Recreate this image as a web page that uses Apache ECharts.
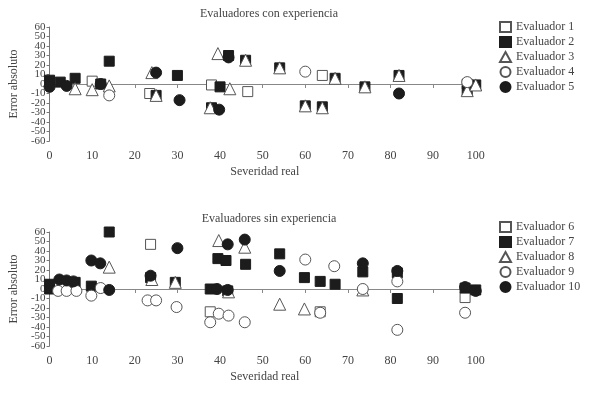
<!DOCTYPE html>
<html>
<head>
<meta charset="utf-8">
<script src="https://cdn.jsdelivr.net/npm/echarts@6/dist/echarts.min.js"></script>
<style>
  html, body { margin: 0; padding: 0; background: #fff; }
  #chart { width: 589px; height: 393px; }
</style>
</head>
<body>
<div id="chart"></div>
<script>
// severity (x) vs absolute error (y)
var xTicks = [0, 10, 20, 30, 40, 50, 60, 70, 80, 90, 100];

// evaluadores con experiencia
var ev1 = [[0, 2], [10, 3], [23.5, -10], [38, -1], [46.5, -8], [64, 9], [98, 0]];
var ev2 = [[0, 4], [2.5, 2], [6, 6], [12, 0], [14, 24], [25, -12], [30, 9], [42, 30], [46, 25], [40, -3],
  [38, -25], [54, 17], [60, -23], [64, -24], [67, 6], [74, -3], [82, 9], [98, -7], [100, -1]];
var ev3 = [[6, -5], [10, -6], [14, -2], [24, 12], [25, -12], [39.5, 32], [42.3, -5], [46, 25], [37.7, -25],
  [54, 17], [60, -23], [64, -25], [67, 6], [74, -3], [82, 9], [98, -7], [100, -1]];
var ev4 = [[14, -12], [60, 13], [98, 2]];
var ev5 = [[0, -3], [4, -2], [12, 0], [25, 12], [30.5, -17], [39.8, -27], [42, 28], [82, -10]];

// evaluadores sin experiencia
var ev6 = [[23.7, 47], [37.7, -24], [63.5, -24], [97.5, -9]];
var ev7 = [[0, 5], [0, 0], [6, 7], [9.8, 3], [14, 60], [23.7, 12], [29.5, 7], [39.5, 32], [41.4, 30], [46, 26],
  [54, 37], [59.8, 12], [63.5, 8], [67, 5], [73.5, 18], [81.6, 17], [81.6, -10], [37.7, 0], [41.8, -2],
  [97.5, 1], [100, -1]];
var ev8 = [[14, 23], [24, 10], [29.5, 7], [39.7, 51], [45.8, 44], [54, -16], [59.8, -21], [42, -3], [73.5, -1]];
var ev9 = [[2, -2], [4, -2], [6.3, -2], [9.8, -7], [12, 1], [23, -12], [25, -12], [29.8, -19], [37.7, -35],
  [39.7, -26], [42, -28], [45.8, -35], [60, 31], [66.8, 24], [63.5, -25], [73.5, 0], [81.6, 8], [81.6, -43],
  [97.5, -25]];
var ev10 = [[2.3, 10], [4, 9], [5.6, 8], [9.8, 30], [11.9, 27], [14, -1], [23.7, 14], [30, 43], [39.3, 0],
  [41.8, 47], [41.8, -1], [45.8, 52], [54, 19], [73.5, 27], [81.6, 19], [97.5, 2], [100, -2]];

var names1 = ['Evaluador 1', 'Evaluador 2', 'Evaluador 3', 'Evaluador 4', 'Evaluador 5'];
var names2 = ['Evaluador 6', 'Evaluador 7', 'Evaluador 8', 'Evaluador 9', 'Evaluador 10'];

var font = '"Liberation Serif", "DejaVu Serif", serif';
var dark = '#1c1c1c';
var edge = '#555';

// square, filled square, triangle, circle, filled circle
var looks = [
  { symbol: 'rect', size: 10, fill: '#fff' },
  { symbol: 'rect', size: 10, fill: dark },
  { symbol: 'triangle', size: 12, fill: '#fff' },
  { symbol: 'circle', size: 11, fill: '#fff' },
  { symbol: 'circle', size: 11, fill: dark }
];

var chartDom = document.getElementById('chart');
var myChart = echarts.init(chartDom, null, { renderer: 'canvas', devicePixelRatio: 1 });

function makeSeries(name, data, look, gridIdx) {
  return {
    name: name,
    type: 'scatter',
    xAxisIndex: gridIdx * 2,
    yAxisIndex: gridIdx * 2,
    data: data,
    symbol: look.symbol,
    symbolSize: look.size,
    clip: false,
    itemStyle: {
      color: look.fill,
      borderColor: look.fill === '#fff' ? edge : dark,
      borderWidth: 1,
      opacity: 1
    },
    emphasis: { disabled: true }
  };
}

var grids = [
  { left: 46, top: 27, width: 434, height: 114 },
  { left: 46, top: 232, width: 434, height: 114 }
];

var yLabel = { margin: 4, color: '#444', fontFamily: font, fontSize: 11 };

var xAxes = [];
var yAxes = [];
grids.forEach(function (g, i) {
  // labels + name below the plot
  xAxes.push({
    type: 'value', gridIndex: i, min: 0, max: 101, interval: 10,
    position: 'bottom',
    axisLine: { show: false, onZero: false },
    axisTick: { show: false },
    splitLine: { show: false },
    axisLabel: {
      margin: 9, color: '#444', fontFamily: font, fontSize: 12,
      showMaxLabel: false,
      formatter: function (v) { return xTicks.indexOf(v) >= 0 ? v : ''; }
    },
    name: 'Severidad real', nameLocation: 'middle', nameGap: 25,
    nameTextStyle: { color: '#444', fontFamily: font, fontSize: 12 }
  });
  // zero line with ticks
  xAxes.push({
    type: 'value', gridIndex: i, min: 0, max: 101, interval: 10,
    position: 'bottom',
    axisLine: { show: true, onZero: true, lineStyle: { color: '#888', width: 1 } },
    axisTick: { show: true, length: 4, lineStyle: { color: '#888' } },
    axisLabel: { show: false },
    splitLine: { show: false }
  });
  // y axis: labels split over two axes so none get hidden for overlap
  yAxes.push({
    type: 'value', gridIndex: i, min: -60, max: 60, interval: 10,
    axisLine: { show: true, onZero: false, lineStyle: { color: '#777' } },
    axisTick: { show: true, length: 3, lineStyle: { color: '#777' } },
    splitLine: { show: false },
    axisLabel: Object.assign({}, yLabel, {
      formatter: function (v) { return Math.abs(v) % 20 === 0 ? v : ''; }
    }),
    name: 'Error absoluto', nameLocation: 'middle', nameGap: 29,
    nameTextStyle: { color: '#444', fontFamily: font, fontSize: 12 }
  });
  yAxes.push({
    type: 'value', gridIndex: i, min: -60, max: 60, interval: 10,
    position: 'left',
    axisLine: { show: false, onZero: false },
    axisTick: { show: false },
    splitLine: { show: false },
    axisLabel: Object.assign({}, yLabel, {
      formatter: function (v) { return Math.abs(v) % 20 === 10 ? v : ''; }
    })
  });
});

var sets1 = [ev1, ev2, ev3, ev4, ev5];
var sets2 = [ev6, ev7, ev8, ev9, ev10];
var series = [];
sets1.forEach(function (d, k) { series.push(makeSeries(names1[k], d, looks[k], 0)); });
sets2.forEach(function (d, k) { series.push(makeSeries(names2[k], d, looks[k], 1)); });

function makeLegend(names, top) {
  return {
    data: names,
    orient: 'vertical',
    left: 494,
    top: top,
    itemWidth: 11,
    itemHeight: 10,
    itemGap: 3,
    textStyle: { color: '#444', fontFamily: font, fontSize: 12, lineHeight: 11 },
    selectedMode: false
  };
}

var option = {
  animation: false,
  backgroundColor: '#fff',
  title: [
    { text: 'Evaluadores con experiencia', left: 264, top: 3, textAlign: 'center',
      textStyle: { color: '#444', fontFamily: font, fontSize: 12, fontWeight: 'normal' } },
    { text: 'Evaluadores sin experiencia', left: 264, top: 208, textAlign: 'center',
      textStyle: { color: '#444', fontFamily: font, fontSize: 12, fontWeight: 'normal' } }
  ],
  legend: [makeLegend(names1, 16), makeLegend(names2, 216)],
  grid: grids,
  xAxis: xAxes,
  yAxis: yAxes,
  series: series
};

option && myChart.setOption(option);
</script>
</body>
</html>
